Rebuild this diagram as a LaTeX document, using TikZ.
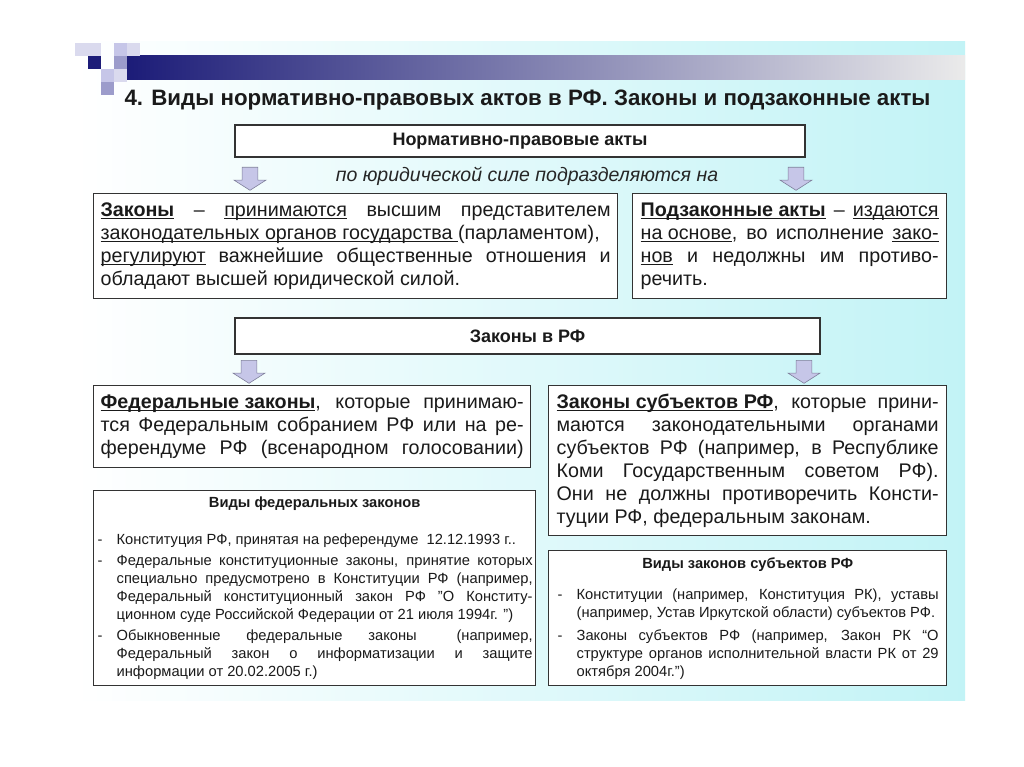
\documentclass[tikz,border=0pt]{standalone}
\usepackage{fontspec}
\setmainfont{Liberation Sans}
\usetikzlibrary{positioning,shapes.arrows}
\definecolor{ink}{HTML}{1A1A1A}
\definecolor{slidecyan}{HTML}{C2F3F6}
\definecolor{bandnavy}{HTML}{1C1C78}
\definecolor{lilac}{HTML}{C6C6E8}
\definecolor{lilacdk}{HTML}{9C9CCB}
\definecolor{pale}{HTML}{DADAEE}
\definecolor{arrowedge}{HTML}{7E7E9A}

\newcommand\undl[1]{\setbox0\hbox{#1}\rlap{\rule[-2.8pt]{\wd0}{1.2pt}}\box0\relax}
\newcommand\jl[1]{\noindent\makebox[\hsize][s]{#1}\par}
\newcommand\firstln[1]{\noindent\makebox[20pt][l]{\hspace{1pt}-}\makebox[\dimexpr\hsize-20pt\relax][s]{#1}\par}
\newcommand\nextln[1]{\noindent\hspace*{20pt}\makebox[\dimexpr\hsize-20pt\relax][s]{#1}\par}
\newcommand\lastln[1]{\noindent\hspace*{20pt}#1\par}
\newcommand\oneln[1]{\noindent\makebox[20pt][l]{\hspace{1pt}-}#1\par}

\begin{document}
\begin{tikzpicture}[x=1pt,y=-1pt,text=ink,
   headbox/.style={draw=black!80,line width=1.3pt,fill=white,
                   font=\fontsize{18}{21}\selectfont\bfseries},
   textbox/.style={draw=black!80,line width=1.3pt,fill=white,anchor=north west,
                   inner ysep=0pt,align=justify,font=\fontsize{19.7}{23}\selectfont},
   smallbox/.style={draw=black!80,line width=1.3pt,fill=white,anchor=north west,
                   inner ysep=0pt,align=justify,font=\fontsize{14.7}{18}\selectfont},
   downarr/.style={single arrow,shape border rotate=270,draw=arrowedge,fill=lilac,
                   line width=0.6pt,minimum width=32pt,single arrow head extend=8pt,
                   minimum height=23pt,single arrow tip angle=115,inner sep=7.5pt,anchor=tail}]
  \useasboundingbox (0,0) rectangle (1024,767);
  \fill[white] (0,0) rectangle (1024,767);
  \shade[left color=white,right color=slidecyan] (75,42) rectangle (965,700);
  \shade[left color=bandnavy,right color=white!92!black] (127,56) rectangle (965,80);
  \foreach \x/\y/\c in {75/43/pale,88/43/pale,114/43/lilac,127/43/pale,
                        88/56/bandnavy,114/56/lilacdk,101/69/lilac,114/69/pale,101/82/lilacdk}
    \fill[\c] (\x,\y) rectangle ++(13,13);

  \node[anchor=west,font=\fontsize{22.3}{26}\selectfont\bfseries] (title) at (121,100)
    {4. Виды нормативно-правовых актов в РФ. Законы и подзаконные акты};

  \node[headbox,minimum width=570pt,minimum height=32pt] (ntaHead) at (520,141)
    {Нормативно-правовые акты};
  \node[font=\fontsize{19.5}{22}\selectfont\itshape,text=black!85] (splitNote) at (527,176)
    {по юридической силе подразделяются на};
  \node[downarr] (arrA) at (250,167) {};
  \node[downarr] (arrB) at (796,167) {};

  \node[textbox,inner xsep=7pt,text width=510pt,minimum height=105pt] (zakonyBox) at (93,193) {%
    \jl{\undl{\textbf{Законы}} – \undl{принимаются} высшим представителем}
    \jl{\undl{законодательных органов государства\ }(парламентом),}
    \jl{\undl{регулируют} важнейшие общественные отношения и}
    \noindent обладают высшей юридической силой.};
  \node[textbox,inner xsep=8pt,text width=298pt,minimum height=105pt] (podzakBox) at (632,193) {%
    \jl{\undl{\textbf{Подзаконные акты}} – \undl{издаются}}
    \jl{\undl{на основе}, во исполнение \undl{зако-}}
    \jl{\undl{нов} и недолжны им противо-}
    \noindent речить.};

  \node[headbox,minimum width=585pt,minimum height=36pt] (lawsHead) at (527.5,336)
    {Законы в РФ};
  \node[downarr] (arrC) at (249,360) {};
  \node[downarr] (arrD) at (804,360) {};

  \node[textbox,inner xsep=7pt,text width=423pt,minimum height=82pt] (fedBox) at (93,385) {%
    \jl{\undl{\textbf{Федеральные законы}}, которые принимаю-}
    \jl{тся Федеральным собранием РФ или на ре-}
    \jl{ферендуме РФ (всенародном голосовании)}};
  \node[textbox,inner xsep=8pt,text width=382pt,minimum height=150pt] (subjBox) at (548,385) {%
    \jl{\undl{\textbf{Законы субъектов РФ}}, которые прини-}
    \jl{маются законодательными органами}
    \jl{субъектов РФ (например, в Республике}
    \jl{Коми Государственным советом РФ).}
    \jl{Они не должны противоречить Консти-}
    \noindent туции РФ, федеральным законам.};

  \node[smallbox,inner xsep=3pt,text width=436pt,minimum height=195pt] (fedKinds) at (93,490) {%
    {\centering\bfseries Виды федеральных законов\par}\vspace{19pt}
    \oneln{Конституция РФ, принятая на референдуме\ \ 12.12.1993 г..}\vspace{3pt}
    \firstln{Федеральные конституционные законы, принятие которых}
    \nextln{специально предусмотрено в Конституции РФ (например,}
    \nextln{Федеральный конституционный закон РФ "О Конститу-}
    \lastln{ционном суде Российской Федерации от 21 июля 1994г. ")}\vspace{3pt}
    \firstln{Обыкновенные федеральные законы \hspace{14pt}(например,}
    \nextln{Федеральный закон о информатизации и защите}
    \lastln{информации от 20.02.2005 г.)}};
  \node[smallbox,inner xsep=8pt,text width=382pt,minimum height=135pt] (subjKinds) at (548,550) {%
    {\centering\bfseries Виды законов субъектов РФ\par}\vspace{13pt}
    \firstln{Конституции (например, Конституция РК), уставы}
    \lastln{(например, Устав Иркутской области) субъектов РФ.}\vspace{5pt}
    \firstln{Законы субъектов РФ (например, Закон РК “О}
    \nextln{структуре органов исполнительной власти РК от 29}
    \lastln{октября 2004г.”)}};
\end{tikzpicture}
\end{document}
